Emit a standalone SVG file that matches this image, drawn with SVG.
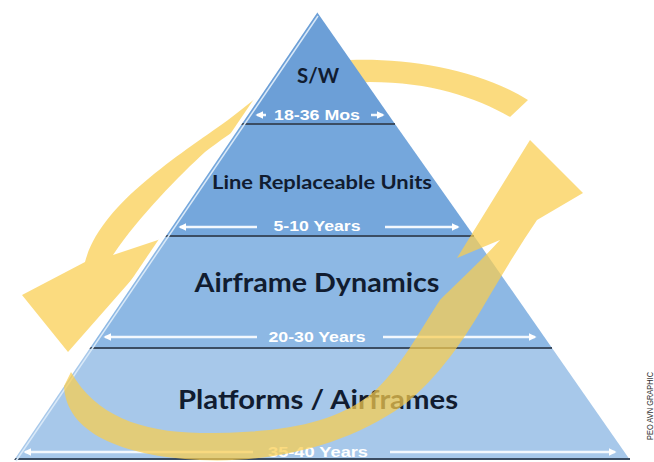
<svg xmlns="http://www.w3.org/2000/svg" width="654" height="462" viewBox="0 0 654 462">
<defs>
<marker id="wa" viewBox="0 0 10 10" refX="8" refY="5" markerWidth="3.2" markerHeight="3.2" orient="auto"><path d="M0,0 L10,5 L0,10 z" fill="#ffffff"/></marker>
</defs>
<style>
.lbl{font-family:Lato,"Liberation Sans",sans-serif;font-weight:700;fill:#111c30;text-anchor:middle}
.yr{font-family:"Liberation Sans",Arial,sans-serif;font-weight:700;fill:#ffffff;text-anchor:middle}
.span{stroke:#f3f8fd;stroke-width:2.5;fill:none;marker-end:url(#wa)}
.div{stroke:#3b4d63;stroke-width:2}
.band{fill:#f9cd4e;fill-opacity:0.72}
</style>
<rect width="654" height="462" fill="#ffffff"/>

<g id="connectors-back">
<path class="band" d="M528,100 C480,70 410,58 350,60 C295,60 265,92 228,120 C175,158 100,205 85,262 L22,295 L68,352 L170,236 L113,255 C140,215 180,175 205,152 C240,125 300,85 370,82 C430,82 475,97 510,117 Z"/>
</g>

<g id="layer-sw">
<polygon points="317,12 395,124 241,124" fill="#6c9fd7"/>
<text class="lbl" x="318" y="83" font-size="20" textLength="42" lengthAdjust="spacingAndGlyphs">S/W</text>
<line class="span" x1="266" y1="115" x2="257" y2="115"/>
<line class="span" x1="371" y1="115" x2="383" y2="115"/>
<text class="yr" x="317" y="120" font-size="14" textLength="86" lengthAdjust="spacingAndGlyphs">18-36 Mos</text>
</g>

<g id="layer-lru">
<polygon points="241,124 395,124 474,236 165,236" fill="#75a7dc"/>
<text class="lbl" x="322" y="189" font-size="18" textLength="220" lengthAdjust="spacingAndGlyphs">Line Replaceable Units</text>
<line class="span" x1="257" y1="227" x2="180" y2="227"/>
<line class="span" x1="385" y1="227" x2="458" y2="227"/>
<text class="yr" x="317" y="231" font-size="14" textLength="87" lengthAdjust="spacingAndGlyphs">5-10 Years</text>
</g>

<g id="layer-airframe-dynamics">
<polygon points="165,236 474,236 552,348 89,348" fill="#8db8e4"/>
<text class="lbl" x="317" y="292" font-size="26" textLength="245" lengthAdjust="spacingAndGlyphs">Airframe Dynamics</text>
<line class="span" x1="257" y1="337" x2="105" y2="337"/>
<line class="span" x1="383" y1="337" x2="535" y2="337"/>
<text class="yr" x="317" y="342" font-size="15" textLength="97" lengthAdjust="spacingAndGlyphs">20-30 Years</text>
</g>

<g id="layer-platforms">
<polygon points="89,348 552,348 630,460 13,460" fill="#a7c8ea"/>
<text class="lbl" x="318" y="409" font-size="27" textLength="280" lengthAdjust="spacingAndGlyphs">Platforms / Airframes</text>
<line class="span" x1="253" y1="452" x2="25" y2="452"/>
<line class="span" x1="390" y1="452" x2="615" y2="452"/>
<text class="yr" x="318" y="457" font-size="15" textLength="100" lengthAdjust="spacingAndGlyphs">35-40 Years</text>
</g>

<g id="dividers">
<line class="div" x1="241" y1="124" x2="395" y2="124"/>
<line class="div" x1="165" y1="236" x2="474" y2="236"/>
<line class="div" x1="89" y1="348" x2="552" y2="348"/>
<line class="div" x1="13" y1="459" x2="630" y2="459" stroke="#4a525c"/>
<line x1="316" y1="11" x2="11" y2="461" stroke="#ffffff" stroke-width="4"/>
<line x1="318" y1="16" x2="16" y2="461" stroke="#d9e9f8" stroke-width="1.5"/>
</g>

<g id="connectors-front">
<path class="band" d="M64,386 C66,432 120,456 200,460 C280,464 360,440 410,400 C445,370 470,330 490,295 C505,270 520,245 537,220 L583,193 L530,140 L457,258 L500,240 C480,262 455,285 440,300 C420,330 400,370 370,395 C330,425 280,433 200,433 C140,432 95,415 71,372 Z"/>
</g>

<text x="0" y="0" transform="translate(653,406) rotate(-90)" font-family="'Liberation Sans',Arial,sans-serif" font-size="9" fill="#333333" text-anchor="middle" textLength="68" lengthAdjust="spacingAndGlyphs">PEO AVN GRAPHIC</text>
</svg>
